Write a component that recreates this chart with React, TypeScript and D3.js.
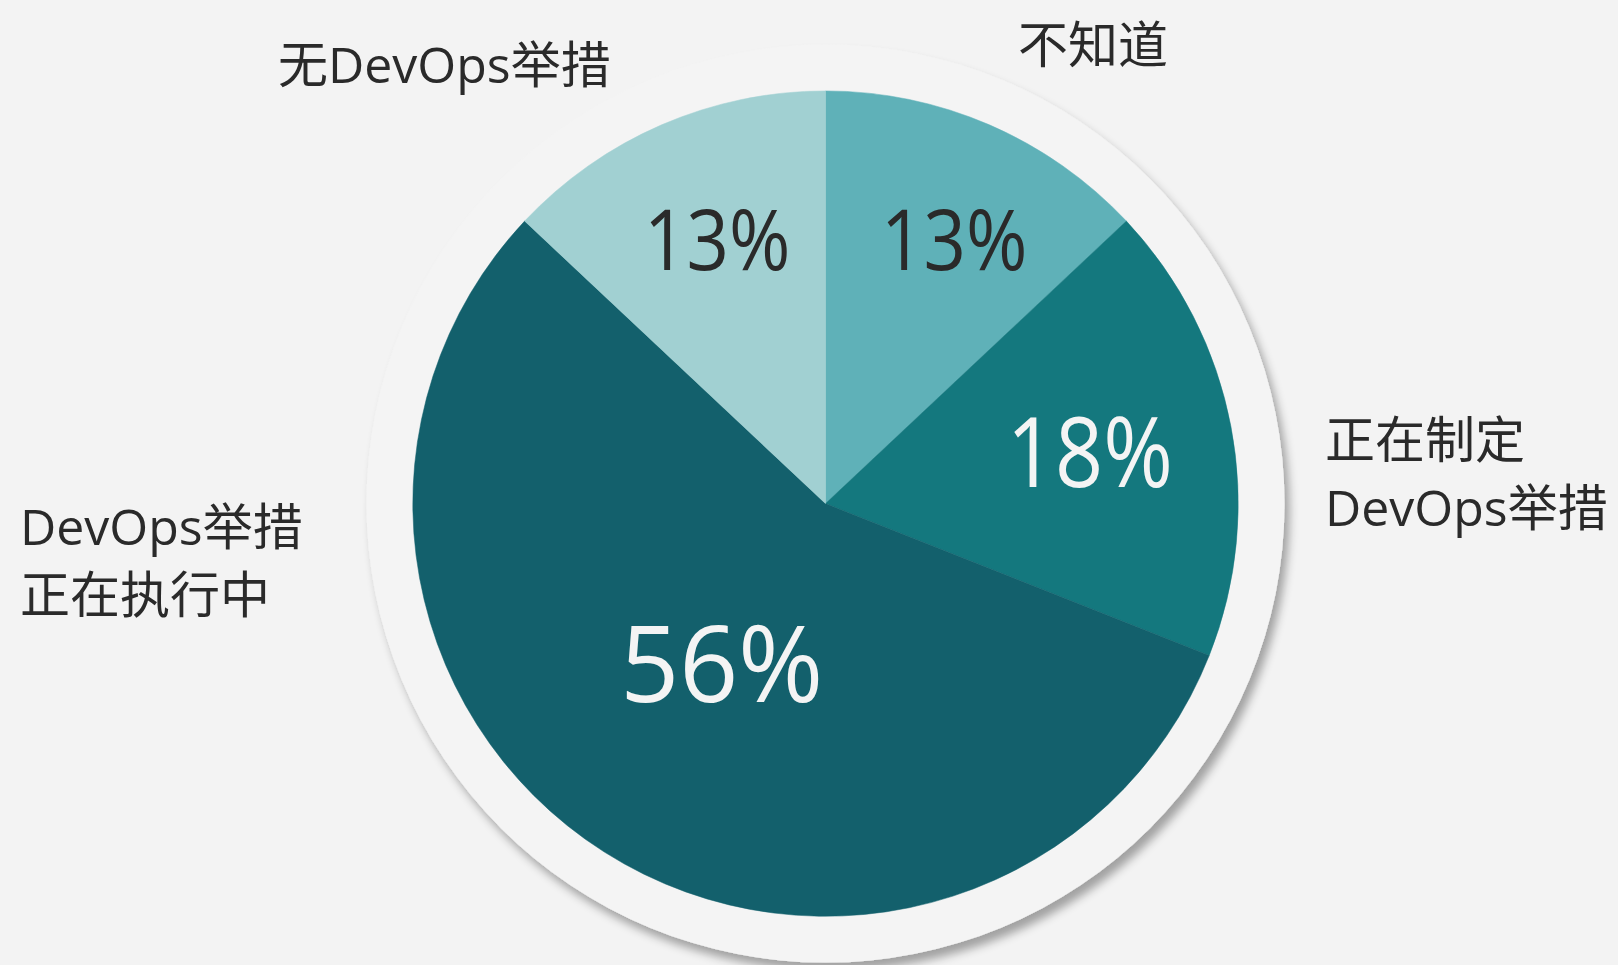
import React from "react";
import * as d3 from "d3";

const categories = ["不知道", "正在制定DevOps举措", "DevOps举措正在执行中", "无DevOps举措"];
const values = [13, 18, 56, 13];
const valueLabels = ["13%", "18%", "56%", "13%"];
const labelLines = [["不知道"], ["正在制定", "DevOps举措"], ["DevOps举措", "正在执行中"], ["无DevOps举措"]];

const W = 1618;
const H = 965;
const cx = 825.5;
const cy = 503.6;
const R = 412.7;
const discR = 459;

const colors = ["#5fb1b8", "#14787e", "#13606c", "#a1d0d2"];
const valueColors = ["#2a2a2a", "#f4f4f4", "#f4f4f4", "#2a2a2a"];
const valueFontSizes = [85, 97, 107, 85];
const valueRadius = [0.697, 0.657, 0.46, 0.697];
const valueNudgeX = [14.5, -2, -2, 6];
const valueSquash = [0.865, 0.86, 0.954, 0.865];
const FONT = "'Open Sans', 'Noto Sans CJK SC', sans-serif";

const catPos = [
  { x: 1018, y: 63 },
  { x: 1325, y: 458 },
  { x: 20, y: 545 },
  { x: 278, y: 83 },
];

export default function App() {
  const pie = d3.pie<number>().sort(null).startAngle(0).endAngle(2 * Math.PI)(values);
  const arc = d3.arc<d3.PieArcDatum<number>>().innerRadius(0).outerRadius(R);

  return (
    <svg
      width={W}
      height={H}
      style={{ position: "absolute", left: 0, top: 0, display: "block" }}
      fontFamily={FONT}
    >
      <defs>
        <filter id="shadow" x="-20%" y="-20%" width="140%" height="140%">
          <feGaussianBlur in="SourceAlpha" stdDeviation="5" />
          <feOffset dx="5" dy="8" result="ob" />
          <feComponentTransfer>
            <feFuncA type="linear" slope="0.34" />
          </feComponentTransfer>
          <feMerge>
            <feMergeNode />
            <feMergeNode in="SourceGraphic" />
          </feMerge>
        </filter>
      </defs>
      <rect width={W} height={H} fill="#f3f3f3" />
      <circle cx={cx} cy={cy} r={discR} fill="#f4f4f4" filter="url(#shadow)" />
      <g transform={`translate(${cx},${cy})`}>
        {pie.map((d, i) => (
          <path key={categories[i]} d={arc(d) || ""} fill={colors[i]} stroke={colors[i]} strokeWidth={0.5} />
        ))}
        {pie.map((d, i) => {
          const rr = R * valueRadius[i];
          const c = d3.arc<d3.PieArcDatum<number>>().innerRadius(rr).outerRadius(rr).centroid(d);
          const fs = valueFontSizes[i];
          return (
            <text
              key={"v" + i}
              x={c[0] + valueNudgeX[i]}
              y={c[1] + fs * 0.357}
              textAnchor="middle"
              fontSize={fs}
              textLength={fs * 1.99 * valueSquash[i]}
              lengthAdjust="spacingAndGlyphs"
              fill={valueColors[i]}
            >
              {valueLabels[i]}
            </text>
          );
        })}
      </g>
      {labelLines.map((lines, i) => (
        <text key={"c" + i} x={catPos[i].x} y={catPos[i].y} fontSize={50} fill="#2a2a2a">
          {lines.map((ln, j) => (
            <tspan key={j} x={catPos[i].x} dy={j === 0 ? 0 : 68}>
              {ln}
            </tspan>
          ))}
        </text>
      ))}
    </svg>
  );
}
